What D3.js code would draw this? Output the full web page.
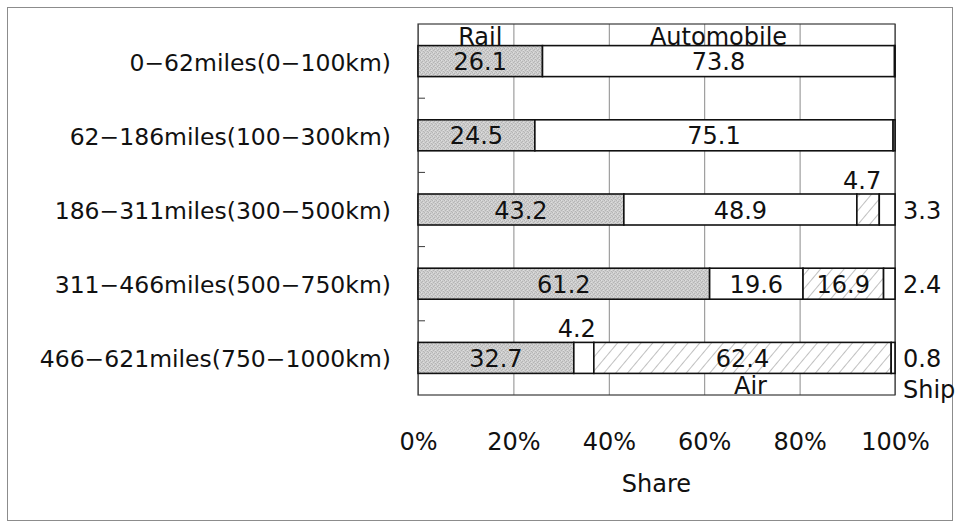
<!DOCTYPE html>
<html>
<head>
<meta charset="utf-8">
<script src="https://cdn.jsdelivr.net/npm/d3@7/dist/d3.min.js"></script>
<style>
  html, body { margin: 0; padding: 0; background: #fff; }
  svg text { font-family: "DejaVu Sans", "Liberation Sans", sans-serif; fill: #111; }
</style>
</head>
<body>
<svg id="chart" width="961" height="525"></svg>
<script>
// Modal share by trip distance (percent)
const categories = [
  "0−62miles(0−100km)",
  "62−186miles(100−300km)",
  "186−311miles(300−500km)",
  "311−466miles(500−750km)",
  "466−621miles(750−1000km)"
];
const modes = ["Rail", "Automobile", "Air", "Ship"];
const rail       = [26.1, 24.5, 43.2, 61.2, 32.7];
const automobile = [73.8, 75.1, 48.9, 19.6, 4.2];
const air        = [0.0, 0.0, 4.7, 16.9, 62.4];
const ship       = [0.1, 0.4, 3.3, 2.4, 0.8];
const xTicks = [0, 0.2, 0.4, 0.6, 0.8, 1.0];
const xTitle = "Share";

const rows = categories.map((c, i) => ({
  category: c, Rail: rail[i], Automobile: automobile[i], Air: air[i], Ship: ship[i]
}));

const svg = d3.select("#chart");
const plot = { left: 418, top: 24, right: 895, bottom: 395 };

// outer chart frame
svg.append("rect")
  .attr("x", 7.5).attr("y", 7.5).attr("width", 945).attr("height", 513)
  .attr("fill", "none").attr("stroke", "#8c8c8c").attr("stroke-width", 1);

const defs = svg.append("defs");
// grainy gray screen for rail
const grain = defs.append("pattern").attr("id", "grain")
  .attr("patternUnits", "userSpaceOnUse").attr("width", 4).attr("height", 4);
grain.append("rect").attr("width", 4).attr("height", 4).attr("fill", "#cdcdcd");
[[0,0],[2,1],[1,2],[3,3]].forEach(([a,b]) =>
  grain.append("rect").attr("x", a).attr("y", b).attr("width", 1).attr("height", 1).attr("fill", "#b4b4b4"));
[[1,0],[3,2]].forEach(([a,b]) =>
  grain.append("rect").attr("x", a).attr("y", b).attr("width", 1).attr("height", 1).attr("fill", "#dedede"));
// diagonal hatch for air
const hatch = defs.append("pattern").attr("id", "hatch")
  .attr("patternUnits", "userSpaceOnUse").attr("width", 9).attr("height", 9)
  .attr("patternTransform", "rotate(40)");
hatch.append("rect").attr("width", 9).attr("height", 9).attr("fill", "#fff");
hatch.append("line").attr("x1", 0).attr("y1", 0).attr("x2", 0).attr("y2", 9)
  .attr("stroke", "#b0b0b0").attr("stroke-width", 1.6);

const fills = { Rail: "url(#grain)", Automobile: "#ffffff", Air: "url(#hatch)", Ship: "#ffffff" };

const x = d3.scaleLinear().domain([0, 1]).range([plot.left, plot.right]);
const y = d3.scaleBand().domain(categories).range([plot.top, plot.bottom]).paddingInner(0).paddingOuter(0);
const barH = 31;
const barY = c => y(c) + (y.bandwidth() - barH) / 2;
const midY = c => y(c) + y.bandwidth() / 2;

// vertical gridlines and x tick labels
const xAxis = svg.append("g")
  .attr("transform", `translate(0,${plot.bottom})`)
  .call(d3.axisBottom(x).tickValues(xTicks).tickFormat(d3.format(".0%"))
    .tickSize(-(plot.bottom - plot.top)).tickPadding(38));
xAxis.select(".domain").remove();
xAxis.selectAll(".tick line").attr("stroke", "#8a8a8a").attr("stroke-width", 1);
xAxis.selectAll(".tick text").attr("font-size", 24).attr("fill", "#111")
  .style("font-family", "'DejaVu Sans', sans-serif");

// plot area border
svg.append("rect")
  .attr("x", plot.left).attr("y", plot.top)
  .attr("width", plot.right - plot.left).attr("height", plot.bottom - plot.top)
  .attr("fill", "none").attr("stroke", "#3a3a3a").attr("stroke-width", 1.2);

// category axis labels
const yAxis = svg.append("g")
  .attr("transform", `translate(${plot.left},2)`)
  .call(d3.axisLeft(y).tickSize(0).tickPadding(27));
yAxis.select(".domain").remove();
yAxis.selectAll(".tick text").attr("font-size", 23.5).attr("fill", "#111")
  .style("font-family", "'DejaVu Sans', sans-serif");

// small inside ticks between categories
svg.append("g").selectAll("line")
  .data(categories.slice(1))
  .join("line")
  .attr("x1", plot.left).attr("x2", plot.left + 7)
  .attr("y1", d => y(d)).attr("y2", d => y(d))
  .attr("stroke", "#3a3a3a").attr("stroke-width", 1);

// stacked 100% bars
const stack = d3.stack().keys(modes).offset(d3.stackOffsetExpand);
const series = stack(rows);

const segs = [];
series.forEach(s => s.forEach(d => {
  segs.push({ mode: s.key, category: d.data.category, value: d.data[s.key], x0: x(d[0]), x1: x(d[1]) });
}));

svg.append("g").selectAll("rect")
  .data(segs.filter(d => d.value > 0))
  .join("rect")
  .attr("x", d => d.x0).attr("y", d => barY(d.category))
  .attr("width", d => Math.max(0, d.x1 - d.x0)).attr("height", barH)
  .attr("fill", d => fills[d.mode])
  .attr("stroke", "#111").attr("stroke-width", 1.6);

// value labels
const fmt = d3.format(".1f");
const labels = svg.append("g").attr("font-size", 24);
segs.filter(d => d.value >= 0.5).forEach(d => {
  const w = d.x1 - d.x0;
  const t = labels.append("text").text(fmt(d.value));
  if (d.mode === "Ship") {
    t.attr("x", plot.right + 8).attr("y", midY(d.category) + 1)
      .attr("dominant-baseline", "central").attr("text-anchor", "start");
  } else if (w >= 45) {
    t.attr("x", (d.x0 + d.x1) / 2).attr("y", midY(d.category) + 1)
      .attr("dominant-baseline", "central").attr("text-anchor", "middle");
  } else {
    t.attr("x", d.x1 + 2).attr("y", barY(d.category) - 5)
      .attr("text-anchor", "end");
  }
});

// series name callouts
const first = segs.filter(d => d.category === categories[0]);
const last = segs.filter(d => d.category === categories[categories.length - 1]);
const callouts = svg.append("g").attr("font-size", 24);
["Rail", "Automobile"].forEach(m => {
  const d = first.find(s => s.mode === m);
  callouts.append("text").text(m)
    .attr("x", (d.x0 + d.x1) / 2).attr("y", barY(d.category) - 1)
    .attr("text-anchor", "middle");
});
{
  const d = last.find(s => s.mode === "Air");
  callouts.append("text").text("Air")
    .attr("x", (d.x0 + d.x1) / 2 + 8).attr("y", barY(d.category) + barH + 21)
    .attr("text-anchor", "middle");
  callouts.append("text").text("Ship")
    .attr("x", plot.right + 8).attr("y", barY(d.category) + barH + 25)
    .attr("text-anchor", "start");
}

// x axis title
svg.append("text").text(xTitle)
  .attr("x", (plot.left + plot.right) / 2).attr("y", 492)
  .attr("text-anchor", "middle").attr("font-size", 24);
</script>
</body>
</html>
